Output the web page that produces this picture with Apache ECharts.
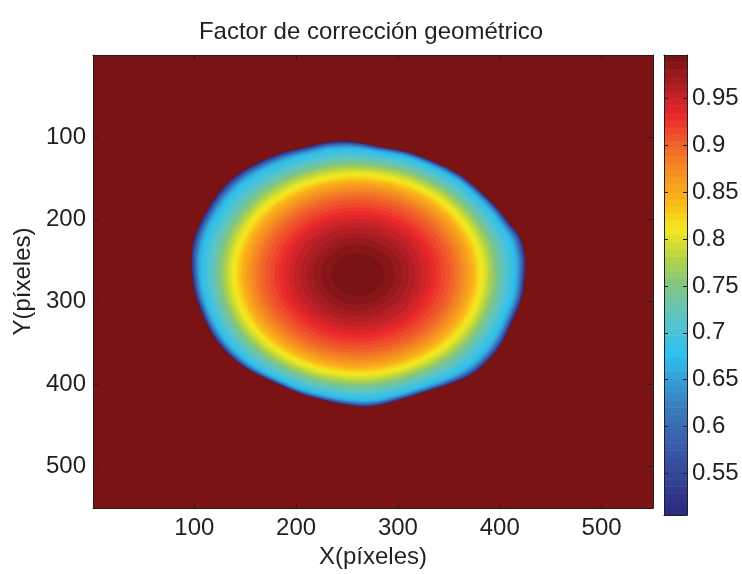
<!DOCTYPE html>
<html><head><meta charset="utf-8">
<script src="https://cdn.jsdelivr.net/npm/echarts@6/dist/echarts.min.js"></script>
<style>html,body{margin:0;padding:0;background:#fff}#c{width:742px;height:574px}</style>
</head><body><div id="c"></div>
<script>
// ---------------- data ----------------
const titleText = 'Factor de corrección geométrico';
const xName = 'X(píxeles)';
const yName = 'Y(píxeles)';
const xTicks = [100, 200, 300, 400, 500];
const yTicks = [100, 200, 300, 400, 500];
const cbTicks = [0.55, 0.6, 0.65, 0.7, 0.75, 0.8, 0.85, 0.9, 0.95];
const imageRange = [0.5, 550.5];
const valueMin = 0.5055;
const valueMax = 0.9965;
const nColors = 64;
// centre of the illuminated spot (pixels)
const spotCenter = [260.5, 267];
// outline of the spot (pixels), read around the edge
const boundaryX = [184.2,210.4,233.3,256.2,282.4,308.7,334.8,361.0,380.7,397.1,410.1,420.0,424.9,424.9,423.2,420.0,410.1,400.3,387.2,370.8,347.9,321.7,295.5,272.6,249.7,226.7,203.8,177.6,151.5,131.8,118.7,108.9,100.7,97.5,97.5,102.4,112.2,125.3,141.7,161.3];
const boundaryY = [120.1,112.1,106.1,106.1,112.1,118.1,130.0,146.1,166.0,185.9,205.9,221.8,245.7,265.7,285.5,301.6,329.4,353.4,373.3,389.3,401.2,411.2,421.2,427.2,425.1,419.2,411.2,397.3,381.2,361.4,341.4,317.5,289.6,261.6,237.7,213.8,189.9,165.9,146.1,132.1];
// radial profile: relative radius (0 centre, 1 edge) -> correction factor
const profileRho = [0, 0.10, 0.16, 0.22, 0.29, 0.35, 0.40, 0.47, 0.53, 0.58, 0.65, 0.70, 0.735, 0.78, 0.83, 0.88, 0.91, 0.94, 0.96, 0.972, 0.985, 1.0];
const profileVal = [0.9965, 0.9935, 0.989, 0.982, 0.970, 0.958, 0.948, 0.930, 0.913, 0.900, 0.870, 0.845, 0.820, 0.795, 0.755, 0.72, 0.70, 0.68, 0.655, 0.62, 0.575, 0.5055];

// ---------------- style ----------------
const cmapStops = [[0,'#2b2c7f'],[0.12,'#3953a4'],[0.23,'#3b7cbf'],[0.35,'#2fc0ee'],[0.43,'#5cc4c6'],[0.5,'#80c583'],[0.5625,'#b6d441'],[0.625,'#f5e91e'],[0.6875,'#fbb51a'],[0.75,'#f58f21'],[0.8125,'#f0612a'],[0.875,'#eb282c'],[0.9375,'#b01f24'],[1,'#7b1315']];
const axisColor = '#231f20';
const fontFamily = '"Liberation Sans", Arial, Helvetica, sans-serif';
const outlineFollow = 8; // how fast inner contours take the outline's shape

function hex(c){return [parseInt(c.slice(1,3),16),parseInt(c.slice(3,5),16),parseInt(c.slice(5,7),16)];}
function cmapAt(t){
  for (let i=0;i<cmapStops.length-1;i++){
    const a=cmapStops[i], b=cmapStops[i+1];
    if (t<=b[0]){
      const f=(t-a[0])/(b[0]-a[0]); const ca=hex(a[1]), cb=hex(b[1]);
      return 'rgb('+ca.map((v,j)=>Math.round(v+(cb[j]-v)*f)).join(',')+')';
    }
  }
  return cmapStops[cmapStops.length-1][1];
}
const colors = Array.from({length:nColors},(_,k)=>cmapAt(k/(nColors-1)));
const step = (valueMax-valueMin)/nColors;
function rhoAt(v){
  if (v>=profileVal[0]) return 0;
  for (let i=0;i<profileVal.length-1;i++){
    if (v<=profileVal[i] && v>=profileVal[i+1]){
      const f=(profileVal[i]-v)/(profileVal[i]-profileVal[i+1]);
      return profileRho[i]+f*(profileRho[i+1]-profileRho[i]);
    }
  }
  return 1;
}
const radii = boundaryX.map((bx,i)=>Math.hypot(bx-spotCenter[0], boundaryY[i]-spotCenter[1]));
const meanRadius = radii.reduce((a,b)=>a+b,0)/radii.length;
const levelData = Array.from({length:nColors},(_,k)=>[k]);

const chart = echarts.init(document.getElementById('c'));
const font = {fontFamily, fontSize:24, color:axisColor};
const lineStyle = {color:axisColor, width:1};
function frameAxis(extra){
  return Object.assign({type:'value', z:10, axisLine:{show:true, onZero:false, lineStyle}, splitLine:{show:false}}, extra);
}
chart.setOption({
  animation:false,
  title:{text:titleText, left:'center', top:15, textStyle:{fontFamily, fontSize:24, fontWeight:'normal', color:axisColor}},
  grid:[
    {left:93, top:55, width:560, height:460, show:true, backgroundColor:colors[nColors-1], borderWidth:0},
    {left:664, top:55, width:23, height:460, show:false}
  ],
  xAxis:[
    frameAxis({gridIndex:0, position:'bottom', min:imageRange[0], max:imageRange[1],
      axisTick:{show:true, inside:true, length:5, customValues:xTicks, lineStyle},
      axisLabel:{show:true, customValues:xTicks, margin:8, ...font},
      name:xName, nameLocation:'middle', nameGap:29, nameTextStyle:font}),
    frameAxis({gridIndex:0, position:'top', min:imageRange[0], max:imageRange[1],
      axisTick:{show:true, inside:true, length:5, customValues:xTicks, lineStyle}, axisLabel:{show:false}}),
    frameAxis({gridIndex:1, position:'bottom', min:0, max:1, axisTick:{show:false}, axisLabel:{show:false}}),
    frameAxis({gridIndex:1, position:'top', min:0, max:1, axisTick:{show:false}, axisLabel:{show:false}})
  ],
  yAxis:[
    frameAxis({gridIndex:0, position:'left', inverse:true, min:imageRange[0], max:imageRange[1],
      axisTick:{show:true, inside:true, length:5, customValues:yTicks, lineStyle},
      axisLabel:{show:true, customValues:yTicks, margin:7, ...font},
      name:yName, nameLocation:'middle', nameGap:57, nameTextStyle:font}),
    frameAxis({gridIndex:0, position:'right', inverse:true, min:imageRange[0], max:imageRange[1],
      axisTick:{show:true, inside:true, length:5, customValues:yTicks, lineStyle}, axisLabel:{show:false}}),
    frameAxis({gridIndex:1, position:'right', min:valueMin, max:valueMax,
      axisTick:{show:true, inside:true, length:4, customValues:cbTicks, lineStyle},
      axisLabel:{show:true, customValues:cbTicks, margin:5, ...font}}),
    frameAxis({gridIndex:1, position:'left', min:valueMin, max:valueMax,
      axisTick:{show:true, inside:true, length:4, customValues:cbTicks, lineStyle}, axisLabel:{show:false}})
  ],
  series:[
    {type:'custom', xAxisIndex:0, yAxisIndex:0, data:levelData, silent:true,
      renderItem:function(params, api){
        const k = api.value(0);
        const rho = rhoAt(valueMin + k*step);
        const w = Math.pow(rho, outlineFollow);
        const pts = boundaryX.map((bx,i)=>{
          const dx = bx-spotCenter[0], dy = boundaryY[i]-spotCenter[1];
          const r = rho*(meanRadius + w*(radii[i]-meanRadius));
          return api.coord([spotCenter[0]+r*dx/radii[i], spotCenter[1]+r*dy/radii[i]]);
        });
        return {type:'polygon', shape:{points:pts, smooth:0.35}, style:{fill:colors[k]}};
      }},
    {type:'custom', xAxisIndex:2, yAxisIndex:2, data:levelData, silent:true,
      renderItem:function(params, api){
        const k = api.value(0);
        const p0 = api.coord([0, valueMin + k*step]);
        const p1 = api.coord([1, valueMin + (k+1)*step]);
        return {type:'rect', shape:{x:p0[0], y:p1[1], width:p1[0]-p0[0], height:p0[1]-p1[1]+0.5}, style:{fill:colors[k]}};
      }}
  ]
});
</script>
</body></html>
